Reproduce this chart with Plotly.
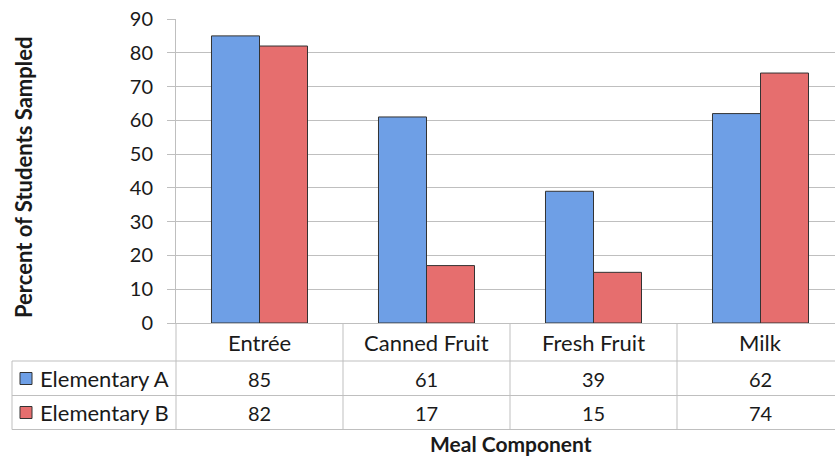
import plotly.graph_objects as go

categories = ["Entrée", "Canned Fruit", "Fresh Fruit", "Milk"]
series_names = ["Elementary A", "Elementary B"]
elementary_a = [85, 61, 39, 62]
elementary_b = [82, 17, 15, 74]
y_ticks = [0, 10, 20, 30, 40, 50, 60, 70, 80, 90]

W, H = 835, 457
ML, MR, MT, MB = 176, 0, 19, 134
PW = W - ML - MR
PH = H - MT - MB
CAT_PX = 167.0  # pixel width of one category column

def px_x(p):
    return (p - ML) / PW

def px_y(p):
    return (H - MB - p) / PH

FONT = "Lato"
GRID = "#BFBFBF"
TXT = "#1a1a1a"
colors = ["#6E9FE6", "#E66E6E"]
TEXT_SIZE = 22
NUM_SIZE = 20

fig = go.Figure()
for name, vals, col in zip(series_names, [elementary_a, elementary_b], colors):
    fig.add_trace(go.Bar(
        x=list(range(len(categories))), y=vals, name=name,
        marker=dict(color=col, line=dict(color="#333333", width=1)),
        showlegend=False,
    ))

x_max = -0.5 + PW / CAT_PX

fig.update_layout(
    width=W, height=H,
    margin=dict(l=ML, r=MR, t=MT, b=MB, pad=0),
    paper_bgcolor="white", plot_bgcolor="white",
    barmode="group", bargap=0.425, bargroupgap=0,
    font=dict(family=FONT, size=NUM_SIZE, color=TXT),
    xaxis=dict(range=[-0.5, x_max], showticklabels=False, ticks="",
               showgrid=False, zeroline=False, showline=True,
               linecolor=GRID, linewidth=1, fixedrange=True),
    yaxis=dict(range=[0, 90], tickvals=y_ticks, showgrid=True,
               gridcolor=GRID, gridwidth=1, zeroline=False,
               showline=True, linecolor=GRID, linewidth=1,
               ticks="outside", ticklen=8, tickcolor=GRID,
               ticklabelstandoff=10,
               tickfont=dict(family=FONT, size=NUM_SIZE, color=TXT)),
)

shapes = []
line = dict(color=GRID, width=1)
row_edges = [361, 395.5, 429.5]
for yy in row_edges:
    shapes.append(dict(type="line", xref="paper", yref="paper",
                       x0=px_x(12), x1=1.02, y0=px_y(yy), y1=px_y(yy), line=line))
shapes.append(dict(type="line", xref="paper", yref="paper",
                   x0=px_x(12), x1=px_x(12), y0=px_y(361), y1=px_y(429.5), line=line))
shapes.append(dict(type="line", xref="paper", yref="paper",
                   x0=0, x1=0, y0=px_y(323), y1=px_y(429.5), line=line))
for i in range(len(categories) - 1):
    shapes.append(dict(type="line", xref="x", yref="paper",
                       x0=i + 0.5, x1=i + 0.5, y0=px_y(323), y1=px_y(429.5), line=line))
row_centers = [378.5, 412.5]
for col, yc in zip(colors, row_centers):
    shapes.append(dict(type="rect", xref="paper", yref="paper",
                       x0=px_x(20), x1=px_x(32), y0=px_y(yc + 6), y1=px_y(yc - 6),
                       fillcolor=col, line=dict(color="#333333", width=1)))
fig.update_layout(shapes=shapes)

ann = []
for i, c in enumerate(categories):
    ann.append(dict(x=i, y=px_y(342.5), xref="x", yref="paper", text=c,
                    showarrow=False, font=dict(size=TEXT_SIZE), xanchor="center", yanchor="middle"))
for vals, yc, name in zip([elementary_a, elementary_b], row_centers, series_names):
    for i, v in enumerate(vals):
        ann.append(dict(x=i, y=px_y(yc), xref="x", yref="paper", text=str(v),
                        showarrow=False, font=dict(size=NUM_SIZE), xanchor="center", yanchor="middle"))
    ann.append(dict(x=px_x(38), y=px_y(yc), xref="paper", yref="paper", text=name,
                    showarrow=False, font=dict(size=TEXT_SIZE), xanchor="left", yanchor="middle"))
ann.append(dict(x=px_x(511), y=px_y(443), xref="paper", yref="paper",
                text="<b>Meal Component</b>", showarrow=False, borderpad=0,
                font=dict(size=21), xanchor="center", yanchor="middle"))
ann.append(dict(x=px_x(23), y=px_y(178), xref="paper", yref="paper",
                text="<b>Percent of Students Sampled</b>", showarrow=False, textangle=-90,
                font=dict(size=TEXT_SIZE), xanchor="center", yanchor="middle"))
fig.update_layout(annotations=ann)

fig.write_html("out.html")
